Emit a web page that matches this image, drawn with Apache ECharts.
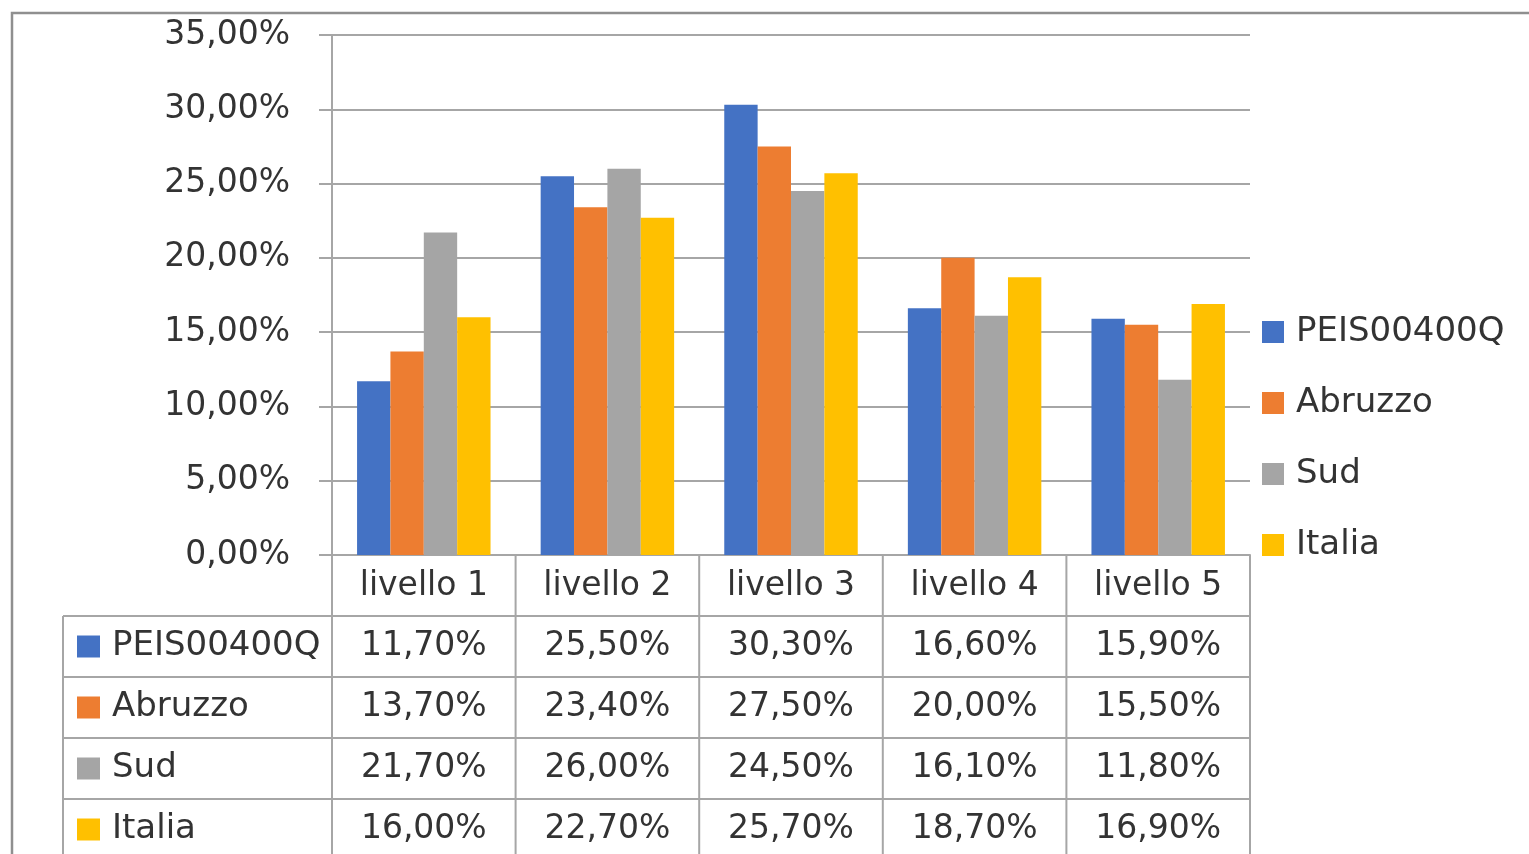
<!DOCTYPE html>
<html>
<head>
<meta charset="utf-8">
<script src="https://cdn.jsdelivr.net/npm/echarts@6/dist/echarts.min.js"></script>
<style>
html,body{margin:0;padding:0;background:#fff;}
#c{width:1529px;height:854px;}
</style>
</head>
<body>
<div id="c"></div>
<script>
const categories = ['livello 1', 'livello 2', 'livello 3', 'livello 4', 'livello 5'];
const seriesNames = ['PEIS00400Q', 'Abruzzo', 'Sud', 'Italia'];
const peis = [11.7, 25.5, 30.3, 16.6, 15.9];
const abruzzo = [13.7, 23.4, 27.5, 20.0, 15.5];
const sud = [21.7, 26.0, 24.5, 16.1, 11.8];
const italia = [16.0, 22.7, 25.7, 18.7, 16.9];
const colors = ['#4472C4', '#ED7D31', '#A5A5A5', '#FFC000'];
const allValues = [peis, abruzzo, sud, italia];

const W = 1529, H = 854;
const gridL = 332, gridR = 1250, gridT = 35, gridB = 555;
const rowH = 61;
const tableL = 63;
const FONT = 'DejaVu Sans';
const FS = 33;
const TXT = '#333333';
const LINE = '#a6a6a6';

function fmt(v) { return v.toFixed(2).replace('.', ',') + '%'; }

const graphics = [];
// outer frame
graphics.push({type:'rect', shape:{x:12, y:13, width:1600, height:1000},
  style:{fill:'none', stroke:'#8f8f8f', lineWidth:2.5}, silent:true});

const nCat = categories.length;
const colW = (gridR - gridL) / nCat;
const nRows = seriesNames.length;
const tableBottom = gridB + rowH * (nRows + 1);
// horizontal lines
for (let r = 1; r <= nRows + 1; r++) {
  const y = gridB + rowH * r;
  graphics.push({type:'line', shape:{x1:tableL, y1:y, x2:gridR, y2:y},
    style:{stroke:LINE, lineWidth:2}, silent:true});
}
// vertical lines
graphics.push({type:'line', shape:{x1:tableL, y1:gridB + rowH, x2:tableL, y2:tableBottom},
  style:{stroke:LINE, lineWidth:2}, silent:true});
for (let c = 0; c <= nCat; c++) {
  const x = gridL + colW * c;
  graphics.push({type:'line', shape:{x1:x, y1:gridB, x2:x, y2:tableBottom},
    style:{stroke:LINE, lineWidth:2}, silent:true});
}
// row legend + values
for (let r = 0; r < nRows; r++) {
  const yc = gridB + rowH * (r + 1) + rowH / 2;
  graphics.push({type:'rect', shape:{x:77, y:yc - 11, width:23, height:22},
    style:{fill:colors[r]}, silent:true});
  graphics.push({type:'text', x:112, y:yc, style:{text:seriesNames[r], font:'34px "' + FONT + '"',
    fill:TXT, textVerticalAlign:'middle', textAlign:'left'}, silent:true});
  for (let c = 0; c < nCat; c++) {
    graphics.push({type:'text', x:gridL + colW * (c + 0.5), y:yc,
      style:{text:fmt(allValues[r][c]), font:FS + 'px "' + FONT + '"', fill:TXT,
        textVerticalAlign:'middle', textAlign:'center'}, silent:true});
  }
}

const chart = echarts.init(document.getElementById('c'), null, {renderer:'canvas'});
chart.setOption({
  animation:false,
  backgroundColor:'#fff',
  textStyle:{fontFamily:FONT},
  grid:{left:gridL, right:W - gridR, top:gridT, bottom:H - gridB, containLabel:false},
  legend:{
    orient:'vertical', left:1257, top:307,
    itemWidth:22, itemHeight:22, itemGap:31,
    icon:'rect',
    textStyle:{fontSize:34, color:TXT, fontFamily:FONT, lineHeight:40, padding:[0,0,0,7]},
    data:seriesNames
  },
  xAxis:{
    type:'category', data:categories,
    axisLine:{show:true, lineStyle:{color:LINE, width:2}},
    axisTick:{show:false},
    axisLabel:{fontSize:FS, color:TXT, fontFamily:FONT, margin:15}
  },
  yAxis:{
    type:'value', min:0, max:35, interval:5,
    axisLine:{show:true, lineStyle:{color:LINE, width:2}},
    axisTick:{show:true, length:13, inside:false, lineStyle:{color:LINE, width:2}},
    splitLine:{show:true, lineStyle:{color:LINE, width:2}},
    axisLabel:{fontSize:FS, color:TXT, fontFamily:FONT, margin:42, formatter:fmt}
  },
  series:seriesNames.map((n, i) => ({
    name:n, type:'bar', data:allValues[i],
    itemStyle:{color:colors[i]},
    barGap:'0%', barCategoryGap:'27.3%'
  })),
  graphic:graphics
});
</script>
</body>
</html>
